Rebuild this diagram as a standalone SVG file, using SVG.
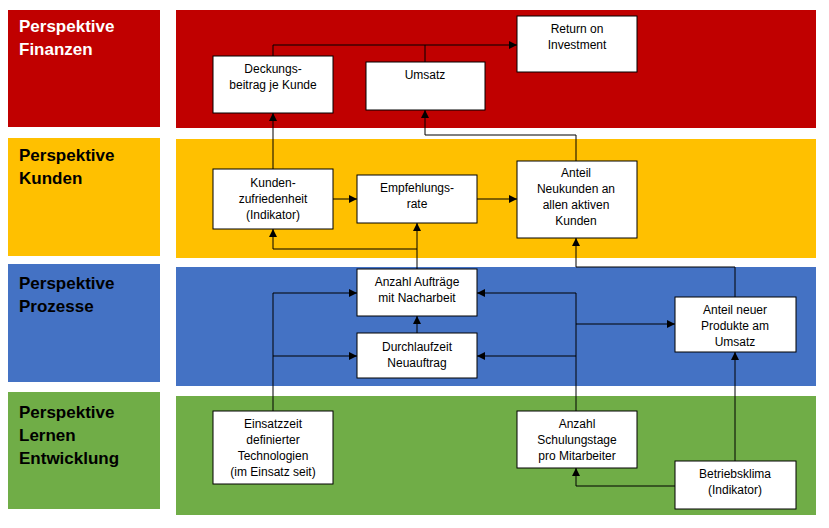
<svg xmlns="http://www.w3.org/2000/svg" width="829" height="528" viewBox="0 0 829 528">
<style>
.lbl{font-family:"Liberation Sans",Arial,sans-serif;font-size:17px;font-weight:bold;fill:#000}
.box{fill:#fff;stroke:#000;stroke-width:1}
.t{font-family:"Liberation Sans",Arial,sans-serif;font-size:12px;fill:#000;text-anchor:middle}
.c{fill:none;stroke:#000;stroke-width:1}
.a{marker-end:url(#arr)}
</style>
<defs>
<marker id="arr" markerWidth="8" markerHeight="8" refX="8" refY="4" orient="auto" markerUnits="userSpaceOnUse">
<path d="M0,0 L8,4 L0,8 z" fill="#000"/>
</marker>
</defs>
<rect width="829" height="528" fill="#fff"/>
<g id="bands">
<rect x="8" y="10" width="152" height="117" fill="#C00000"/>
<rect x="176" y="10" width="640" height="118" fill="#C00000"/>
<rect x="8" y="138" width="152" height="118" fill="#FFC000"/>
<rect x="176" y="139" width="640" height="119" fill="#FFC000"/>
<rect x="8" y="264" width="152" height="118" fill="#4472C4"/>
<rect x="176" y="267" width="640" height="119" fill="#4472C4"/>
<rect x="8" y="392" width="152" height="117" fill="#70AD47"/>
<rect x="176" y="396" width="640" height="119" fill="#70AD47"/>
<text class="lbl" x="19" y="32" style="fill:#fff">Perspektive</text>
<text class="lbl" x="19" y="55" style="fill:#fff">Finanzen</text>
<text class="lbl" x="19" y="161">Perspektive</text>
<text class="lbl" x="19" y="184">Kunden</text>
<text class="lbl" x="19" y="289">Perspektive</text>
<text class="lbl" x="19" y="312">Prozesse</text>
<text class="lbl" x="19" y="418">Perspektive</text>
<text class="lbl" x="19" y="441">Lernen</text>
<text class="lbl" x="19" y="464">Entwicklung</text>
</g>
<g id="connectors">
<path class="c a" d="M273,56 V45 H517"/>
<path class="c" d="M425,62 V45"/>
<path class="c a" d="M273,169 V113"/>
<path class="c a" d="M576,161 V135 H425 V110"/>
<path class="c a" d="M333,199 H357"/>
<path class="c a" d="M477,199 H517"/>
<path class="c a" d="M417,269 V223"/>
<path class="c a" d="M417,249 H273 V229"/>
<path class="c a" d="M735,297 V267 H576 V238"/>
<path class="c a" d="M273,411 V293 H357"/>
<path class="c a" d="M273,356 H357"/>
<path class="c a" d="M576,411 V293 H477"/>
<path class="c a" d="M576,356 H477"/>
<path class="c a" d="M576,324 H675"/>
<path class="c a" d="M417,333 V316"/>
<path class="c a" d="M735,461 V352"/>
<path class="c a" d="M675,486 H576 V468"/>
</g>
<g id="deckungsbeitrag">
<rect class="box" x="213" y="56" width="120" height="57"/>
<text class="t" x="273" y="73">Deckungs-</text>
<text class="t" x="273" y="89">beitrag je Kunde</text>
</g>
<g id="umsatz">
<rect class="box" x="366" y="62" width="119" height="48"/>
<text class="t" x="425" y="79">Umsatz</text>
</g>
<g id="roi">
<rect class="box" x="517" y="16" width="120" height="56"/>
<text class="t" x="577" y="33">Return on</text>
<text class="t" x="577" y="49">Investment</text>
</g>
<g id="kundenzufriedenheit">
<rect class="box" x="213" y="169" width="120" height="60"/>
<text class="t" x="273" y="187">Kunden-</text>
<text class="t" x="273" y="203">zufriedenheit</text>
<text class="t" x="273" y="219">(Indikator)</text>
</g>
<g id="empfehlungsrate">
<rect class="box" x="357" y="175" width="120" height="48"/>
<text class="t" x="417" y="192">Empfehlungs-</text>
<text class="t" x="417" y="208">rate</text>
</g>
<g id="anteil-neukunden">
<rect class="box" x="517" y="161" width="120" height="77"/>
<text class="t" x="576" y="177">Anteil</text>
<text class="t" x="576" y="193">Neukunden an</text>
<text class="t" x="576" y="209">allen aktiven</text>
<text class="t" x="576" y="225">Kunden</text>
</g>
<g id="anzahl-auftraege">
<rect class="box" x="357" y="269" width="120" height="47"/>
<text class="t" x="417" y="286">Anzahl Aufträge</text>
<text class="t" x="417" y="302">mit Nacharbeit</text>
</g>
<g id="durchlaufzeit">
<rect class="box" x="357" y="333" width="120" height="45"/>
<text class="t" x="417" y="351">Durchlaufzeit</text>
<text class="t" x="417" y="367">Neuauftrag</text>
</g>
<g id="anteil-neuer-produkte">
<rect class="box" x="675" y="297" width="121" height="55"/>
<text class="t" x="735" y="314">Anteil neuer</text>
<text class="t" x="735" y="330">Produkte am</text>
<text class="t" x="735" y="346">Umsatz</text>
</g>
<g id="einsatzzeit">
<rect class="box" x="213" y="411" width="120" height="73"/>
<text class="t" x="273" y="428">Einsatzzeit</text>
<text class="t" x="273" y="444">definierter</text>
<text class="t" x="273" y="460">Technologien</text>
<text class="t" x="273" y="476">(im Einsatz seit)</text>
</g>
<g id="schulungstage">
<rect class="box" x="517" y="411" width="120" height="57"/>
<text class="t" x="577" y="428">Anzahl</text>
<text class="t" x="577" y="444">Schulungstage</text>
<text class="t" x="577" y="460">pro Mitarbeiter</text>
</g>
<g id="betriebsklima">
<rect class="box" x="675" y="461" width="121" height="48"/>
<text class="t" x="735" y="478">Betriebsklima</text>
<text class="t" x="735" y="494">(Indikator)</text>
</g>
</svg>
